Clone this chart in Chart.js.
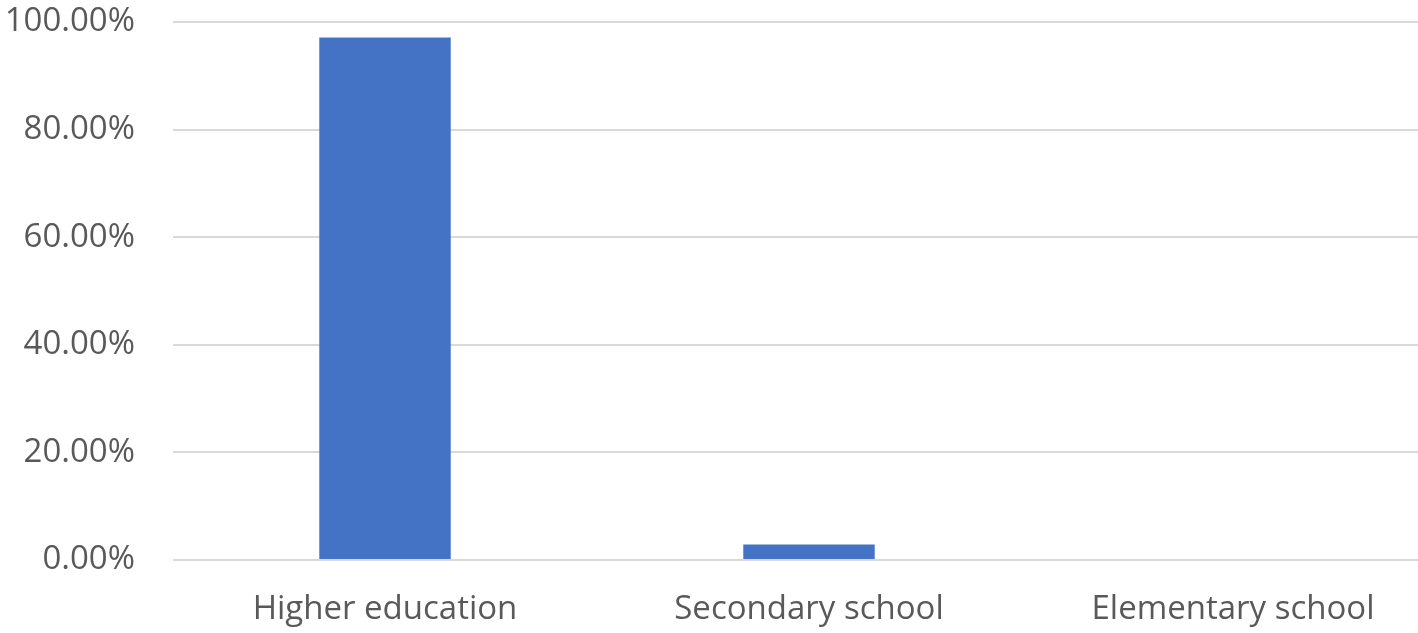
<!DOCTYPE html>
<html>
<head>
<meta charset="utf-8">
<script src="https://cdn.jsdelivr.net/npm/chart.js@4/dist/chart.umd.min.js"></script>
<style>
    html, body { margin: 0; padding: 0; background: #fff; }
    /* the source image is cropped on the right, so the chart is drawn wider and clipped */
    #wrap { width: 1418px; height: 633px; overflow: hidden; position: relative; }
    #inner { width: 1445px; height: 633px; position: relative; }
</style>
</head>
<body>
<div id="wrap"><div id="inner"><canvas id="chart"></canvas></div></div>
<script>
// --- Data ---
const categories = ['Higher education', 'Secondary school', 'Elementary school'];
const shares = [97.1, 2.9, 0];
const yTicks = [0, 20, 40, 60, 80, 100];

const labelColor = '#595959';
const fontFamily = '"Open Sans", "DejaVu Sans", sans-serif';

const chart = new Chart(document.getElementById('chart').getContext('2d'), {
    type: 'bar',
    data: {
        labels: categories,
        datasets: [{
            data: shares,
            backgroundColor: '#4472C4',
            borderWidth: 0,
            barPercentage: 0.31,
            categoryPercentage: 1
        }]
    },
    options: {
        responsive: true,
        maintainAspectRatio: false,
        animation: false,
        layout: { padding: 0 },
        plugins: { legend: { display: false }, tooltip: { enabled: false } },
        scales: {
            x: {
                grid: { display: false, drawTicks: false },
                border: { display: false },
                afterFit: (axis) => { axis.height = 73; },
                ticks: { color: labelColor, font: { family: fontFamily, size: 33 }, padding: 30, maxRotation: 0, autoSkip: false }
            },
            y: {
                min: 0,
                max: 100,
                afterBuildTicks: (axis) => { axis.ticks = yTicks.map(v => ({ value: v })); },
                afterFit: (axis) => {
                    axis.width = 173;
                    axis.paddingTop = 22;
                    axis.paddingBottom = 0;
                },
                grid: { color: '#d9d9d9', lineWidth: 2, drawTicks: false },
                border: { display: false },
                ticks: {
                    color: labelColor,
                    font: { family: fontFamily, size: 33 },
                    padding: 38,
                    callback: (v) => v.toFixed(2) + '%'
                }
            }
        }
    }
});
</script>
</body>
</html>
